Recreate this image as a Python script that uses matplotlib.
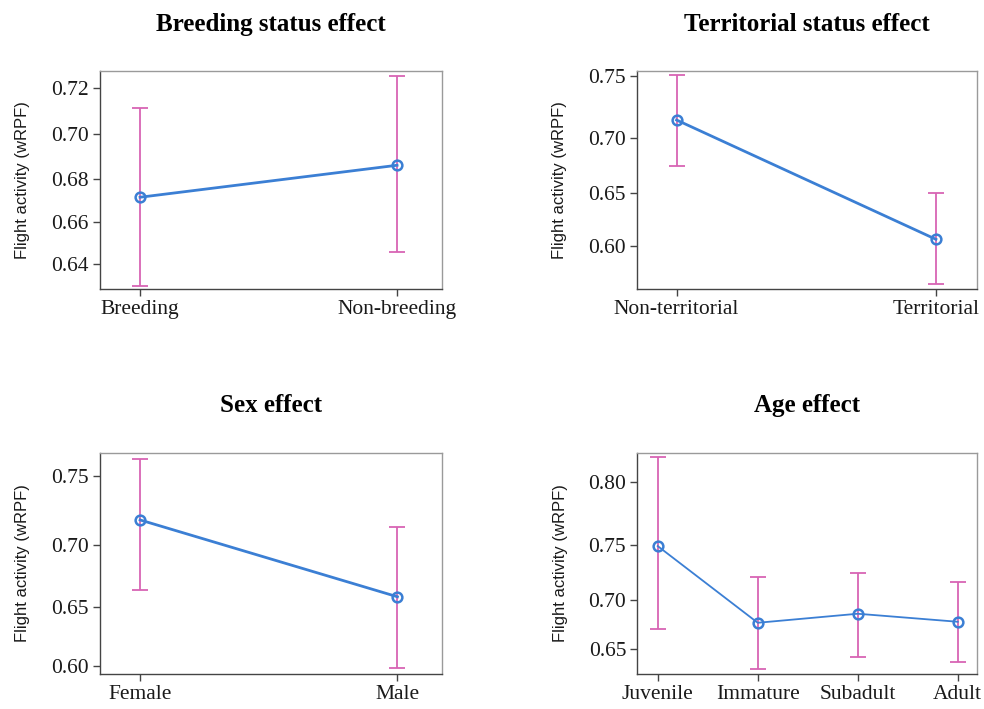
import matplotlib.pyplot as plt
from matplotlib.ticker import FixedLocator, NullLocator, FormatStrFormatter

# Breeding status effect
breed_cats = ["Breeding", "Non-breeding"]
breed_fit = [0.6716, 0.6862]
breed_lo = [0.6293, 0.6458]
breed_hi = [0.7113, 0.7252]

# Territorial status effect
terr_cats = ["Non-territorial", "Territorial"]
terr_fit = [0.7148, 0.6063]
terr_lo = [0.6751, 0.5617]
terr_hi = [0.7505, 0.6507]

# Sex effect
sex_cats = ["Female", "Male"]
sex_fit = [0.7187, 0.6587]
sex_lo = [0.6642, 0.5983]
sex_hi = [0.7613, 0.7132]

# Age effect
age_cats = ["Juvenile", "Immature", "Subadult", "Adult"]
age_fit = [0.7490, 0.6772, 0.6862, 0.6782]
age_lo = [0.6709, 0.6288, 0.6419, 0.6369]
age_hi = [0.8177, 0.7216, 0.7250, 0.7170]

line_col = "#3b7fd4"
err_col = "#d864b4"
serif = "Liberation Serif"

fig = plt.figure(figsize=(9.84, 7.09), dpi=100)


def effect_panel(rect, title, cats, fit, lo, hi, ylim, yticks, xpad, lw):
    ax = fig.add_axes(rect)
    x = list(range(len(cats)))
    ax.set_yscale("logit")
    yerr = [[f - l for f, l in zip(fit, lo)], [h - f for f, h in zip(fit, hi)]]
    ax.errorbar(x, fit, yerr=yerr, fmt="none", ecolor=err_col, elinewidth=1.3,
                capsize=6, capthick=1.3, zorder=2)
    ax.plot(x, fit, color=line_col, lw=lw, zorder=3)
    ax.plot(x, fit, "o", ms=7, mfc="none", mec=line_col, mew=1.8, zorder=4)
    ax.set_ylim(*ylim)
    ax.set_xlim(-xpad[0], len(cats) - 1 + xpad[1])
    ax.yaxis.set_major_locator(FixedLocator(yticks))
    ax.yaxis.set_major_formatter(FormatStrFormatter("%.2f"))
    ax.yaxis.set_minor_locator(NullLocator())
    ax.set_xticks(x)
    ax.set_xticklabels(cats)
    for lab in ax.get_xticklabels() + ax.get_yticklabels():
        lab.set_fontfamily(serif)
        lab.set_fontsize(15.5)
        lab.set_color("#1a1a1a")
    ax.tick_params(axis="both", direction="out", length=5, width=1, color="#444444", pad=3)
    for s in ["top", "right"]:
        ax.spines[s].set_color("#9a9a9a")
        ax.spines[s].set_linewidth(1)
    for s in ["left", "bottom"]:
        ax.spines[s].set_color("#444444")
        ax.spines[s].set_linewidth(1)
    ax.set_ylabel("Flight activity (wRPF)", fontsize=12, fontfamily="Liberation Sans",
                  color="#1a1a1a", labelpad=15)
    ax.set_title(title, fontsize=18, fontweight="bold", fontfamily=serif, pad=29)
    return ax


effect_panel([0.1016, 0.5924, 0.3476, 0.3075], "Breeding status effect",
             breed_cats, breed_fit, breed_lo, breed_hi,
             (0.6279, 0.7271), [0.64, 0.66, 0.68, 0.70, 0.72], (0.156, 0.175), 2.0)
effect_panel([0.6470, 0.5924, 0.3455, 0.3075], "Territorial status effect",
             terr_cats, terr_fit, terr_lo, terr_hi,
             (0.557, 0.7538), [0.60, 0.65, 0.70, 0.75], (0.154, 0.157), 2.0)
effect_panel([0.1016, 0.0489, 0.3473, 0.3126], "Sex effect",
             sex_cats, sex_fit, sex_lo, sex_hi,
             (0.5925, 0.7656), [0.60, 0.65, 0.70, 0.75], (0.156, 0.172), 2.0)
effect_panel([0.6477, 0.0489, 0.3449, 0.3126], "Age effect",
             age_cats, age_fit, age_lo, age_hi,
             (0.6234, 0.8209), [0.65, 0.70, 0.75, 0.80], (0.204, 0.19), 1.3)

fig.savefig("out.png", dpi=100)
